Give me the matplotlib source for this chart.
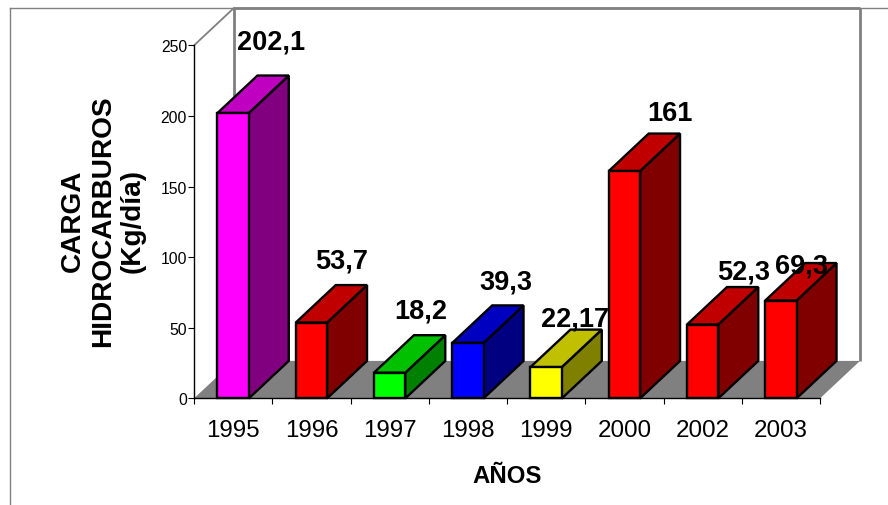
import matplotlib
matplotlib.use("Agg")
import matplotlib.pyplot as plt
from matplotlib.lines import Line2D
from matplotlib.patches import Polygon

years = ["1995", "1996", "1997", "1998", "1999", "2000", "2002", "2003"]
carga = [202.1, 53.7, 18.2, 39.3, 22.17, 161, 52.3, 69.3]
labels = ["202,1", "53,7", "18,2", "39,3", "22,17", "161", "52,3", "69,3"]

# front, top, side
magenta = ("#ff00ff", "#c000c0", "#800080")
red = ("#ff0000", "#c00000", "#800000")
green = ("#00ff00", "#00c000", "#008000")
blue = ("#0000ff", "#0000c0", "#000080")
yellow = ("#ffff00", "#c0c000", "#808000")
colors = [magenta, red, green, blue, yellow, red, red, red]

# label nudges in px from the back edge of each bar top
nudge_x = [-2, -10, -9, -2, -11, 6, 1, -19]
nudge_y = [34, 25, 25, 24, 11, 21, 16, -2]

plt.rcParams["font.family"] = ["Liberation Sans", "DejaVu Sans"]

W, H = 888, 506
fig = plt.figure(figsize=(W / 100, H / 100), dpi=100)
ax = fig.add_axes([194 / W, (H - 399.4) / H, 626 / W, 353 / H])
ax.set_xlim(0, 8)
ax.set_ylim(0, 250)
ax.patch.set_visible(False)

# depth of the fake 3d box, in data units
dx = 40 / 78.25
dy = 37.5 / 1.412

# outer frame
fig.add_artist(Line2D([10 / W, 10 / W], [0, 1 - 8.5 / H], color="#808080", lw=1))
fig.add_artist(Line2D([10 / W, 1], [1 - 8.5 / H, 1 - 8.5 / H], color="#808080", lw=1))

# floor and walls
ax.add_patch(Polygon([(0, 0), (8, 0), (8 + dx, dy), (dx, dy)], fc="#808080", ec="none", clip_on=False, zorder=1))
wall = dict(color="#808080", lw=2, clip_on=False, zorder=1, solid_capstyle="butt")
ax.plot([dx, dx], [dy, 250 + dy], **wall)
ax.plot([dx, 8 + dx], [250 + dy, 250 + dy], **wall)
ax.plot([8 + dx, 8 + dx], [dy, 250 + dy], **wall)
ax.plot([0, dx], [250, 250 + dy], color="#808080", lw=1.3, clip_on=False, zorder=1)

# bars
w = 0.4
for i in range(len(years)):
    x0 = i + 0.5 - w / 2
    x1 = i + 0.5 + w / 2
    v = carga[i]
    front, top, side = colors[i]
    z = 3 + i
    edge = dict(ec="black", lw=1.7, joinstyle="miter", clip_on=False, zorder=z)
    ax.add_patch(Polygon([(x1, 0), (x1 + dx, dy), (x1 + dx, v + dy), (x1, v)], fc=side, **edge))
    ax.add_patch(Polygon([(x0, v), (x1, v), (x1 + dx, v + dy), (x0 + dx, v + dy)], fc=top, **edge))
    ax.add_patch(Polygon([(x0, 0), (x1, 0), (x1, v), (x0, v)], fc=front, **edge))

for i in range(len(years)):
    ax.annotate(labels[i], (i + 0.5 + dx, carga[i] + dy),
                xytext=(nudge_x[i] * 0.72, nudge_y[i] * 0.72), textcoords="offset points",
                ha="center", va="center", fontsize=19.5, fontweight="bold",
                color="black", zorder=20, annotation_clip=False)

# axes
for s in ["top", "right"]:
    ax.spines[s].set_visible(False)
for s in ["left", "bottom"]:
    ax.spines[s].set_linewidth(1)
    ax.spines[s].set_zorder(2)
ax.set_yticks([0, 50, 100, 150, 200, 250])
ax.tick_params(axis="y", length=4, width=0.8, pad=1, labelsize=11.3)
ax.set_xticks(range(9))
ax.set_xticklabels([])
ax.tick_params(axis="x", which="major", length=4.5, width=0.8)
ax.set_xticks([i + 0.5 for i in range(8)], years, minor=True)
ax.tick_params(axis="x", which="minor", length=0, pad=14.5, labelsize=17.4)

fig.text(103 / W, 1 - 221 / H, "CARGA\nHIDROCARBUROS\n(Kg/día)", rotation=90,
         ha="center", va="center", ma="center", fontsize=20.2, fontweight="bold", linespacing=1.2)
fig.text(507 / W, 1 - 477 / H, "AÑOS", ha="center", va="center", fontsize=17.3, fontweight="bold")

fig.savefig("out.png", dpi=100)
